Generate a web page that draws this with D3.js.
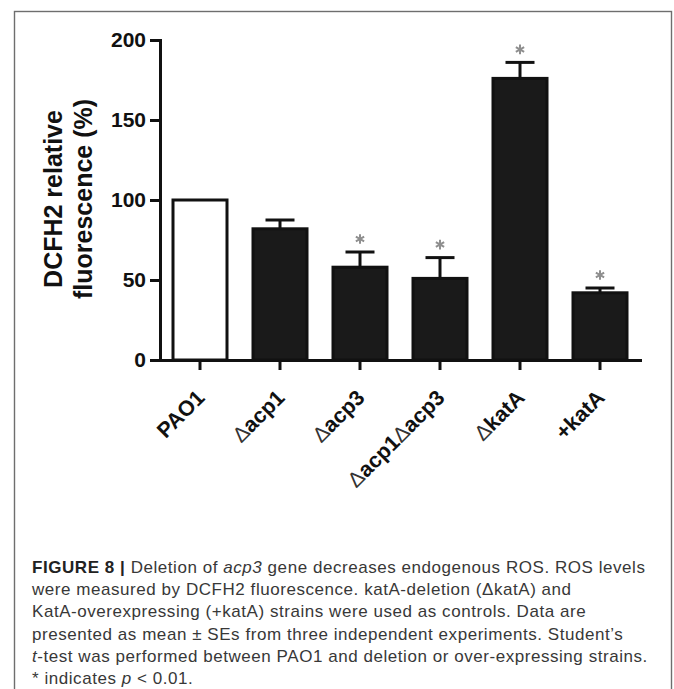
<!DOCTYPE html>
<html>
<head>
<meta charset="utf-8">
<script src="https://cdn.jsdelivr.net/npm/d3@7"></script>
<style>
  html, body { margin: 0; padding: 0; background: #fff; }
  svg { display: block; }
</style>
</head>
<body>
<svg id="fig" width="674" height="689"></svg>
<script>
// Strains and DCFH2 relative fluorescence (% of PAO1), mean and SE
const categories = ["PAO1", "\u0394acp1", "\u0394acp3", "\u0394acp1\u0394acp3", "\u0394katA", "+katA"];
const meanValues = [100, 82, 58, 51, 176, 42];
const seValues = [0, 5.5, 9.5, 13, 10, 3];
const significant = [false, false, true, true, true, true];
const yTicks = [0, 50, 100, 150, 200];
const yTitleLines = ["DCFH2 relative", "fluorescence (%)"];

const svg = d3.select("#fig");

// outer figure frame
svg.append("rect")
  .attr("x", 14.5).attr("y", 11.5)
  .attr("width", 657).attr("height", 700)
  .attr("fill", "none").attr("stroke", "#6e6e6e").attr("stroke-width", 1.4);

const plot = { left: 160, right: 640, top: 40, bottom: 360 };

const x = d3.scaleBand()
  .domain(categories)
  .range([plot.left, plot.right])
  .paddingInner(0.325)
  .paddingOuter(0.1625);

const y = d3.scaleLinear().domain([0, 200]).range([plot.bottom, plot.top]);

const fontBold = "'Liberation Sans', Arial, Helvetica, sans-serif";

const data = categories.map((c, i) => ({ c, v: meanValues[i], se: seValues[i], sig: significant[i], i }));

const g = svg.append("g");

// error bars (upper only)
const err = g.selectAll("g.err").data(data.filter(d => d.se > 0)).join("g").attr("class", "err");
err.append("line")
  .attr("x1", d => x(d.c) + x.bandwidth() / 2)
  .attr("x2", d => x(d.c) + x.bandwidth() / 2)
  .attr("y1", d => y(d.v))
  .attr("y2", d => y(d.v + d.se))
  .attr("stroke", "#111").attr("stroke-width", 3);
err.append("line")
  .attr("x1", d => x(d.c) + x.bandwidth() / 2 - 14.5)
  .attr("x2", d => x(d.c) + x.bandwidth() / 2 + 14.5)
  .attr("y1", d => y(d.v + d.se))
  .attr("y2", d => y(d.v + d.se))
  .attr("stroke", "#111").attr("stroke-width", 3);

// bars
g.selectAll("rect.bar").data(data).join("rect")
  .attr("class", "bar")
  .attr("x", d => x(d.c))
  .attr("y", d => y(d.v))
  .attr("width", x.bandwidth())
  .attr("height", d => y(0) - y(d.v))
  .attr("fill", d => d.i === 0 ? "#ffffff" : "#1a1a1a")
  .attr("stroke", "#111")
  .attr("stroke-width", 3);

// significance asterisks
g.selectAll("path.star").data(data.filter(d => d.sig)).join("path")
  .attr("class", "star")
  .attr("transform", d => `translate(${x(d.c) + x.bandwidth() / 2},${y(d.v + d.se) - 13})`)
  .attr("d", d3.symbol(d3.symbolAsterisk, 64))
  .attr("fill", "none")
  .attr("stroke", "#8f8f8f")
  .attr("stroke-width", 2);

// y axis
const yAxis = svg.append("g")
  .attr("transform", `translate(${plot.left},0)`)
  .call(d3.axisLeft(y).tickValues(yTicks).tickSize(10).tickSizeOuter(0).tickPadding(4));
yAxis.select(".domain").attr("stroke", "#111").attr("stroke-width", 3).attr("stroke-linecap", "square");
yAxis.selectAll(".tick line").attr("stroke", "#111").attr("stroke-width", 3);
yAxis.selectAll(".tick text")
  .attr("font-family", fontBold).attr("font-weight", "bold").attr("font-size", 21).attr("fill", "#111");

// x axis
const xAxis = svg.append("g")
  .attr("transform", `translate(0,${plot.bottom})`)
  .call(d3.axisBottom(x).tickSize(10).tickSizeOuter(0).tickFormat(""));
xAxis.select(".domain").attr("stroke", "#111").attr("stroke-width", 3).attr("stroke-linecap", "square");
xAxis.selectAll(".tick line").attr("stroke", "#111").attr("stroke-width", 3);

// rotated category labels; the delta sign is set in a lighter weight
const catText = svg.append("g").selectAll("text").data(categories).join("text")
  .attr("transform", d => `translate(${x(d) + x.bandwidth() / 2 + 6},399) rotate(-45)`)
  .attr("text-anchor", "end")
  .attr("font-family", fontBold).attr("font-weight", "bold").attr("font-size", 21.5)
  .attr("fill", "#111");
catText.each(function(d) {
  const t = d3.select(this);
  d.split(/(\u0394)/).filter(s => s.length).forEach(s => {
    const ts = t.append("tspan").text(s);
    if (s === "\u0394") ts.attr("font-weight", "normal").attr("fill", "#333");
  });
});

// y axis title
svg.append("g").selectAll("text").data(yTitleLines).join("text")
  .attr("transform", (d, i) => `translate(${62 + i * 30},199) rotate(-90)`)
  .attr("text-anchor", "middle")
  .attr("font-family", fontBold).attr("font-weight", "bold").attr("font-size", 25)
  .attr("fill", "#111")
  .text(d => d);

// figure caption
const captionLines = [
  [["FIGURE 8 | ", "b"], ["Deletion of ", "n"], ["acp3", "i"], [" gene decreases endogenous ROS. ROS levels", "n"]],
  [["were measured by DCFH2 fluorescence. katA-deletion (\u0394katA) and", "n"]],
  [["KatA-overexpressing (+katA) strains were used as controls. Data are", "n"]],
  [["presented as mean \u00b1 SEs from three independent experiments. Student\u2019s", "n"]],
  [["t", "i"], ["-test was performed between PAO1 and deletion or over-expressing strains.", "n"]],
  [["* indicates ", "n"], ["p", "i"], [" < 0.01.", "n"]]
];
const cap = svg.append("g")
  .attr("font-family", "'Liberation Sans', Arial, Helvetica, sans-serif")
  .attr("font-size", 17)
  .attr("letter-spacing", 0.55)
  .attr("fill", "#383838");
captionLines.forEach((parts, li) => {
  const t = cap.append("text").attr("x", 32).attr("y", 573 + li * 22.2);
  parts.forEach(([s, st]) => {
    const ts = t.append("tspan").text(s);
    if (st === "b") ts.attr("font-weight", "bold").attr("fill", "#222");
    if (st === "i") ts.attr("font-style", "italic");
  });
});
</script>
</body>
</html>
